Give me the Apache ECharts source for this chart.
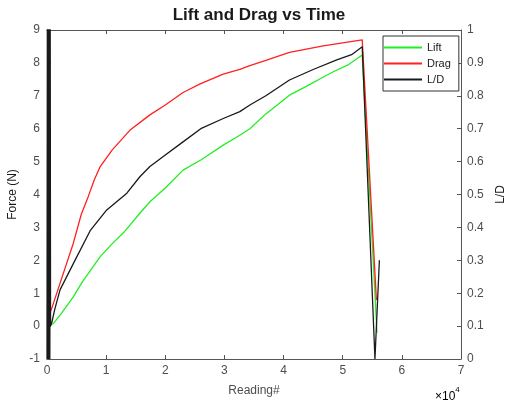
<!DOCTYPE html>
<html><head><meta charset="utf-8">
<script src="https://cdn.jsdelivr.net/npm/echarts@6/dist/echarts.min.js"></script>
<style>html,body{margin:0;padding:0;background:#fff}#c{width:509px;height:406px}</style>
</head><body><div id="c"></div>
<script>
var titleText = 'Lift and Drag vs Time';
var seriesNames = ['Lift', 'Drag', 'L/D'];
var xTicks = [0, 10000, 20000, 30000, 40000, 50000, 60000, 70000];
var forceTicks = [-1, 0, 1, 2, 3, 4, 5, 6, 7, 8, 9];
var ldTicks = [0, 0.1, 0.2, 0.3, 0.4, 0.5, 0.6, 0.7, 0.8, 0.9, 1];

var liftReading = [500, 1100, 2500, 4450, 6000, 7000, 9000, 11000, 13000, 15700, 17400, 20000, 23000, 26000, 29800, 32600, 34300, 37000, 41000, 44000, 46500, 48400, 51000, 53300, 55800];
var liftForce = [0.03, 0.08, 0.4, 0.89, 1.35, 1.6, 2.11, 2.5, 2.85, 3.43, 3.78, 4.2, 4.74, 5.05, 5.5, 5.8, 6.0, 6.45, 7.02, 7.3, 7.55, 7.73, 7.95, 8.24, -0.2];

var dragReading = [600, 800, 2200, 4450, 5800, 7000, 8000, 9000, 11000, 14000, 17400, 20000, 23000, 25900, 29800, 32600, 34300, 37000, 41000, 46700, 53300, 55700];
var dragForce = [0.45, 0.54, 1.3, 2.52, 3.4, 3.95, 4.45, 4.85, 5.35, 5.95, 6.42, 6.72, 7.1, 7.36, 7.66, 7.8, 7.92, 8.08, 8.32, 8.52, 8.7, 0.79];

var ldReading = [0, 60, 120, 180, 240, 300, 360, 420, 480, 540, 600, 800, 1300, 2200, 4450, 7300, 10100, 13500, 15700, 17400, 20000, 23000, 26000, 29800, 32600, 34300, 37000, 41000, 45000, 49000, 51500, 53300, 55450, 56200];
var ldRatio = [0, 1.05, 0, 1.05, 0, 1.05, 0, 1.05, 0, 1.05, 0.1, 0.11, 0.15, 0.21, 0.29, 0.39, 0.453, 0.504, 0.554, 0.585, 0.62, 0.66, 0.7, 0.731, 0.752, 0.772, 0.8, 0.848, 0.88, 0.909, 0.925, 0.949, 0, 0.30];

function pairs(xs, ys) { return xs.map(function (x, i) { return [x, ys[i]]; }); }

var axisCol = '#555';
var labelCol = '#4d4d4d';
var font = 'Liberation Sans, Arial, Helvetica, sans-serif';

var chart = echarts.init(document.getElementById('c'), null, {renderer: 'canvas'});
chart.setOption({
  animation: false,
  backgroundColor: '#fff',
  title: {
    text: titleText, left: 254, top: 2, textAlign: 'center',
    textStyle: {fontFamily: font, fontSize: 17, fontWeight: 'bold', color: '#1a1a1a'}
  },
  legend: {
    data: seriesNames, orient: 'vertical', left: 383, top: 36,
    icon: 'rect', itemWidth: 38, itemHeight: 2, itemGap: 5,
    backgroundColor: '#fff', borderColor: '#333', borderWidth: 1, borderRadius: 0,
    padding: [6, 8, 6, 1],
    textStyle: {fontFamily: font, fontSize: 11, color: '#1a1a1a', padding: [0, 0, 0, 0]}
  },
  grid: {left: 47, right: 48, top: 30, bottom: 47, containLabel: false, outerBoundsMode: 'none'},
  xAxis: [{
    type: 'value', min: xTicks[0], max: xTicks[xTicks.length - 1], interval: 10000,
    name: 'Reading#', nameLocation: 'middle', nameGap: 26,
    nameTextStyle: {fontFamily: font, fontSize: 12, color: labelCol},
    axisLine: {show: true, onZero: false, lineStyle: {color: axisCol, width: 1}},
    axisTick: {show: true, inside: true, length: 4, lineStyle: {color: axisCol}},
    axisLabel: {fontFamily: font, fontSize: 12, color: labelCol, margin: 6,
      formatter: function (v) { return String(v / 10000); }},
    splitLine: {show: false}
  }, {
    type: 'value', position: 'top', min: xTicks[0], max: xTicks[xTicks.length - 1], interval: 10000,
    axisLine: {show: true, onZero: false, lineStyle: {color: axisCol, width: 1}},
    axisTick: {show: true, inside: true, length: 4, lineStyle: {color: axisCol}},
    axisLabel: {show: false}, splitLine: {show: false}
  }],
  yAxis: [{
    type: 'value', min: forceTicks[0], max: forceTicks[forceTicks.length - 1], interval: 1,
    name: 'Force (N)', nameLocation: 'middle', nameGap: 26, nameRotate: 90,
    nameTextStyle: {fontFamily: font, fontSize: 12, color: '#1a1a1a'},
    axisLine: {show: true, onZero: false, lineStyle: {color: axisCol, width: 1}},
    axisTick: {show: true, inside: true, length: 4, lineStyle: {color: axisCol}},
    axisLabel: {fontFamily: font, fontSize: 12, color: labelCol, margin: 7},
    splitLine: {show: false}
  }, {
    type: 'value', position: 'right', min: ldTicks[0], max: ldTicks[ldTicks.length - 1], interval: 0.1,
    name: 'L/D', nameLocation: 'middle', nameGap: 28, nameRotate: 90,
    nameTextStyle: {fontFamily: font, fontSize: 12, color: '#1a1a1a'},
    axisLine: {show: true, onZero: false, lineStyle: {color: axisCol, width: 1}},
    axisTick: {show: true, inside: true, length: 4, lineStyle: {color: axisCol}},
    axisLabel: {fontFamily: font, fontSize: 12, color: labelCol, margin: 6,
      formatter: function (v) { return String(Math.round(v * 10) / 10); }},
    splitLine: {show: false}
  }],
  graphic: [{
    type: 'text', left: 435, top: 386,
    style: {
      text: '{a|×10}{b|4}',
      rich: {
        a: {fontFamily: font, fontSize: 12, color: labelCol, padding: [5, 0, 0, 0]},
        b: {fontFamily: font, fontSize: 8, color: labelCol, verticalAlign: 'top', padding: [0, 0, 6, 0]}
      }
    }
  }],
  series: [{
    name: seriesNames[0], type: 'line', xAxisIndex: 0, yAxisIndex: 0,
    data: pairs(liftReading, liftForce), showSymbol: false, symbol: 'none', clip: true,
    itemStyle: {color: '#22ee22'}, lineStyle: {color: '#22ee22', width: 1.3}
  }, {
    name: seriesNames[1], type: 'line', xAxisIndex: 0, yAxisIndex: 0,
    data: pairs(dragReading, dragForce), showSymbol: false, symbol: 'none', clip: true,
    itemStyle: {color: '#ff2020'}, lineStyle: {color: '#ff2020', width: 1.3}
  }, {
    name: seriesNames[2], type: 'line', xAxisIndex: 0, yAxisIndex: 1,
    data: pairs(ldReading, ldRatio), showSymbol: false, symbol: 'none', clip: true,
    itemStyle: {color: '#1a1a1a'}, lineStyle: {color: '#1a1a1a', width: 1.3}
  }]
});
</script></body></html>
